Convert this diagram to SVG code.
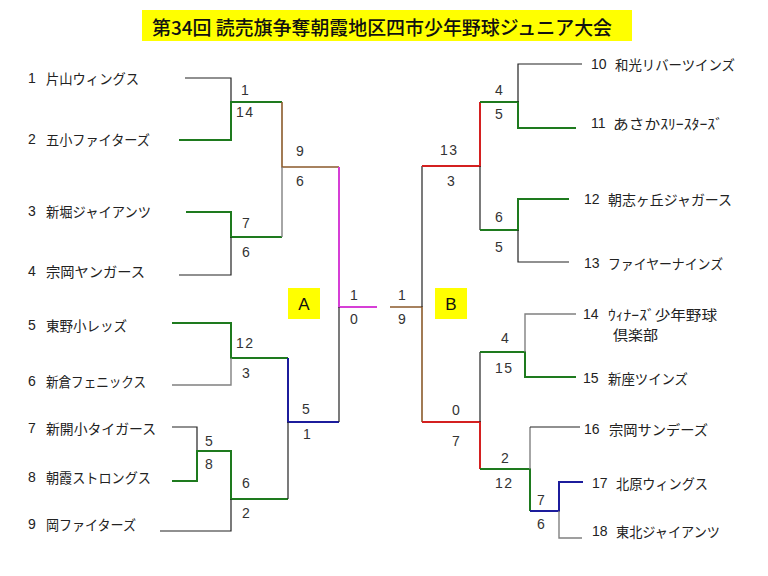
<svg xmlns="http://www.w3.org/2000/svg" width="768" height="576" viewBox="0 0 768 576">
<style>
.t{font-family:"Noto Sans CJK JP","Liberation Sans",sans-serif;font-size:14px;fill:#222;dominant-baseline:central}
.n{font-family:"Liberation Sans","Noto Sans CJK JP",sans-serif;font-size:14px;fill:#222;dominant-baseline:central}
.s{font-family:"Liberation Sans",sans-serif;font-size:14px;fill:#333;letter-spacing:1.5px;dominant-baseline:central}
.k{stroke:#222;stroke-width:1.2;fill:none}
.g{stroke:#808080;stroke-width:1.4;fill:none}
.gr{stroke:#1e7a1e;stroke-width:2;fill:none}
.br{stroke:#8b5a2b;stroke-width:1.6;fill:none}
.m{stroke:#d63fd6;stroke-width:2;fill:none}
.bl{stroke:#1c1c9c;stroke-width:2;fill:none}
.r{stroke:#d42020;stroke-width:2;fill:none}
.y{fill:#ffff00}
</style>
<rect width="768" height="576" fill="#fff"/>
<g id="title">
<rect class="y" x="142" y="10" width="490" height="31"/>
<text x="152" y="26" font-family="'Noto Sans CJK JP',sans-serif" font-size="19" font-weight="500" fill="#111" dominant-baseline="central" textLength="460" lengthAdjust="spacingAndGlyphs">第34回 読売旗争奪朝霞地区四市少年野球ジュニア大会</text>
</g>
<g id="connectors">
<path class="k" d="M185,78H231V102"/>
<path class="gr" d="M179,140H231V102H282"/>
<path class="br" d="M282,102V167H339"/>
<path class="gr" d="M186,212H231V237H282"/>
<path class="k" d="M179,275H231V237"/>
<path class="g" d="M282,237V167"/>
<path class="m" d="M339,167V307H377"/>
<path class="gr" d="M172,323H231V358H288"/>
<path class="g" d="M172,385H231V358"/>
<path class="bl" d="M288,358V422H339"/>
<path class="k" d="M339,422V307"/>
<path class="k" d="M172,427H197V451"/>
<path class="gr" d="M172,481H197V451H231V499H288"/>
<path class="k" d="M160,531H231V499"/>
<path class="k" d="M288,499V422"/>
<path class="br" d="M390,307H422V422"/>
<path class="k" d="M422,307V166"/>
<path class="r" d="M422,166H480V102"/>
<path class="gr" d="M480,102H518V128H576"/>
<path class="k" d="M518,102V64H582"/>
<path class="k" d="M480,166V230"/>
<path class="gr" d="M480,230H518V199H569"/>
<path class="k" d="M518,230V262H569"/>
<path class="r" d="M422,422H480V469"/>
<path class="k" d="M480,422V352"/>
<path class="gr" d="M480,352H525V377H576"/>
<path class="g" d="M525,352V314H576"/>
<path class="gr" d="M480,469H530V511"/>
<path class="g" d="M530,469V427"/>
<path class="k" d="M530,427H580"/>
<path class="bl" d="M530,511H559V482H583"/>
<path class="g" d="M559,511V538H582"/>
</g>
<g id="scores">
<text class="s" x="241" y="90">1</text>
<text class="s" x="236" y="112">14</text>
<text class="s" x="296" y="151">9</text>
<text class="s" x="296" y="181">6</text>
<text class="s" x="242" y="223">7</text>
<text class="s" x="242" y="252">6</text>
<text class="s" x="236" y="343">12</text>
<text class="s" x="242" y="373">3</text>
<text class="s" x="302" y="409">5</text>
<text class="s" x="303" y="434">1</text>
<text class="s" x="205" y="441">5</text>
<text class="s" x="205" y="464">8</text>
<text class="s" x="242" y="483">6</text>
<text class="s" x="242" y="513">2</text>
<text class="s" x="350" y="295">1</text>
<text class="s" x="350" y="319">0</text>
<text class="s" x="398" y="295">1</text>
<text class="s" x="398" y="319">9</text>
<text class="s" x="495" y="90">4</text>
<text class="s" x="495" y="114">5</text>
<text class="s" x="440" y="150">13</text>
<text class="s" x="447" y="181">3</text>
<text class="s" x="495" y="217">6</text>
<text class="s" x="495" y="247">5</text>
<text class="s" x="501" y="338">4</text>
<text class="s" x="495" y="368">15</text>
<text class="s" x="452" y="410">0</text>
<text class="s" x="452" y="441">7</text>
<text class="s" x="501" y="458">2</text>
<text class="s" x="495" y="483">12</text>
<text class="s" x="537" y="500">7</text>
<text class="s" x="537" y="524">6</text>
</g>
<g id="blockA"><rect class="y" x="288" y="288" width="32" height="31"/><text x="304" y="304" font-family="'Liberation Sans',sans-serif" font-size="17" fill="#111" text-anchor="middle" dominant-baseline="central">A</text></g>
<g id="blockB"><rect class="y" x="435" y="288" width="32" height="31"/><text x="451" y="304" font-family="'Liberation Sans',sans-serif" font-size="17" fill="#111" text-anchor="middle" dominant-baseline="central">B</text></g>
<g id="team1"><text class="n" x="28" y="78">1</text><text class="t" x="46" y="78" textLength="93" lengthAdjust="spacingAndGlyphs">片山ウィングス</text></g>
<g id="team2"><text class="n" x="28" y="139">2</text><text class="t" x="46" y="139" textLength="104" lengthAdjust="spacingAndGlyphs">五小ファイターズ</text></g>
<g id="team3"><text class="n" x="28" y="211">3</text><text class="t" x="46" y="211" textLength="105" lengthAdjust="spacingAndGlyphs">新堀ジャイアンツ</text></g>
<g id="team4"><text class="n" x="28" y="271">4</text><text class="t" x="46" y="271" textLength="99" lengthAdjust="spacingAndGlyphs">宗岡ヤンガース</text></g>
<g id="team5"><text class="n" x="28" y="325">5</text><text class="t" x="46" y="325" textLength="81" lengthAdjust="spacingAndGlyphs">東野小レッズ</text></g>
<g id="team6"><text class="n" x="28" y="381">6</text><text class="t" x="46" y="381" textLength="100" lengthAdjust="spacingAndGlyphs">新倉フェニックス</text></g>
<g id="team7"><text class="n" x="28" y="428">7</text><text class="t" x="46" y="428" textLength="110" lengthAdjust="spacingAndGlyphs">新開小タイガース</text></g>
<g id="team8"><text class="n" x="28" y="477">8</text><text class="t" x="46" y="477" textLength="105" lengthAdjust="spacingAndGlyphs">朝霞ストロングス</text></g>
<g id="team9"><text class="n" x="28" y="524">9</text><text class="t" x="46" y="524" textLength="90" lengthAdjust="spacingAndGlyphs">岡ファイターズ</text></g>
<g id="team10"><text class="n" x="591" y="64">10</text><text class="t" x="615" y="64" textLength="120" lengthAdjust="spacingAndGlyphs">和光リバーツインズ</text></g>
<g id="team11"><text class="n" x="591" y="123">11</text><text class="t" x="613" y="123" textLength="110" lengthAdjust="spacingAndGlyphs">あさかｽﾘｰｽﾀｰｽﾞ</text></g>
<g id="team12"><text class="n" x="584" y="199">12</text><text class="t" x="608" y="199" textLength="124" lengthAdjust="spacingAndGlyphs">朝志ヶ丘ジャガース</text></g>
<g id="team13"><text class="n" x="584" y="263">13</text><text class="t" x="608" y="263" textLength="115" lengthAdjust="spacingAndGlyphs">ファイヤーナインズ</text></g>
<g id="team14"><text class="n" x="583" y="314">14</text><text class="t" x="608" y="314" font-size="13" textLength="109" lengthAdjust="spacingAndGlyphs">ｳｨﾅｰｽﾞ少年野球</text><text class="t" x="613" y="334" font-size="13" textLength="45" lengthAdjust="spacingAndGlyphs">倶楽部</text></g>
<g id="team15"><text class="n" x="583" y="378">15</text><text class="t" x="608" y="378" textLength="80" lengthAdjust="spacingAndGlyphs">新座ツインズ</text></g>
<g id="team16"><text class="n" x="584" y="429">16</text><text class="t" x="609" y="429" textLength="99" lengthAdjust="spacingAndGlyphs">宗岡サンデーズ</text></g>
<g id="team17"><text class="n" x="592" y="483">17</text><text class="t" x="616" y="483" textLength="92" lengthAdjust="spacingAndGlyphs">北原ウィングス</text></g>
<g id="team18"><text class="n" x="592" y="531">18</text><text class="t" x="616" y="531" textLength="104" lengthAdjust="spacingAndGlyphs">東北ジャイアンツ</text></g>
</svg>
